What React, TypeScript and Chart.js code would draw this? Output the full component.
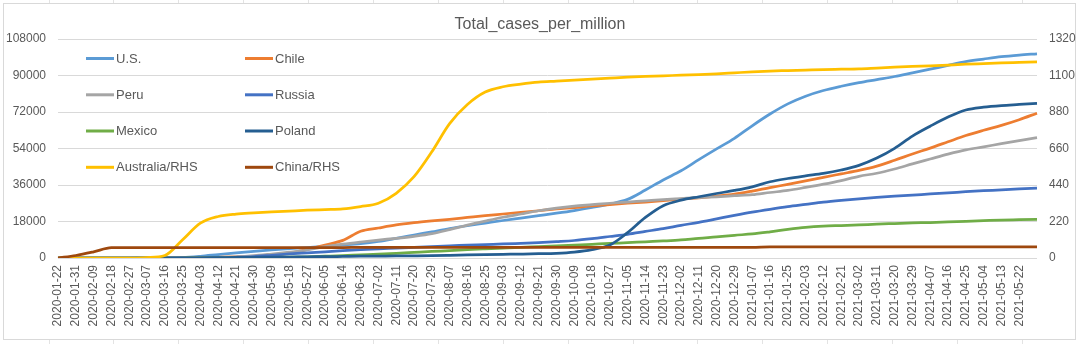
import React, { useEffect, useRef } from 'react';
import { Chart, registerables } from 'chart.js';

Chart.register(...registerables);

const dates = [
  '2020-01-22','2020-01-31','2020-02-09','2020-02-18','2020-02-27','2020-03-07','2020-03-16','2020-03-25',
  '2020-04-03','2020-04-12','2020-04-21','2020-04-30','2020-05-09','2020-05-18','2020-05-27','2020-06-05',
  '2020-06-14','2020-06-23','2020-07-02','2020-07-11','2020-07-20','2020-07-29','2020-08-07','2020-08-16',
  '2020-08-25','2020-09-03','2020-09-12','2020-09-21','2020-09-30','2020-10-09','2020-10-18','2020-10-27',
  '2020-11-05','2020-11-14','2020-11-23','2020-12-02','2020-12-11','2020-12-20','2020-12-29','2021-01-07',
  '2021-01-16','2021-01-25','2021-02-03','2021-02-12','2021-02-21','2021-03-02','2021-03-11','2021-03-20',
  '2021-03-29','2021-04-07','2021-04-16','2021-04-25','2021-05-04','2021-05-13','2021-05-22','2021-05-30'
];
const labeledTickCount = 55;

const usValues = [0,0,0,0,0,1,14,200,840,1680,2500,3280,3980,4580,5150,5800,6400,7100,8200,9700,11300,12900,14500,15900,17200,18500,19700,20900,22100,23400,24900,26600,28900,33500,38500,43000,48500,53800,59000,65200,71000,76000,79800,82600,84700,86500,88000,89500,91300,93100,95000,96800,98100,99300,100100,100700];
const chileValues = [0,0,0,0,0,0,8,48,190,350,540,850,1340,2400,4270,6400,8700,13200,14800,16300,17400,18300,19100,20000,20900,21700,22500,23300,24200,24900,25700,26300,27000,27600,28300,29000,29700,30500,31500,33000,34700,36300,38000,39800,41500,43200,45300,48200,51300,54200,57300,60400,63000,65400,68200,71400];
const peruValues = [0,0,0,0,0,0,0,13,48,227,540,1120,1970,2880,3950,5580,6830,7890,8860,9700,10700,12000,14000,16200,18200,20100,21700,23300,24600,25600,26300,27000,27600,28200,28800,29300,29800,30200,30700,31200,32300,33300,34800,36400,38200,40300,41800,43900,46400,48800,51200,53300,54800,56400,57900,59400];
const russiaValues = [0,0,0,0,0,0,0,5,28,108,362,726,1357,1994,2540,3077,3625,4110,4490,4890,5280,5670,6010,6300,6620,6920,7260,7600,8080,8630,9520,10600,11700,13100,14500,16100,17600,19300,21000,22600,24000,25300,26400,27500,28400,29200,29900,30500,31000,31600,32100,32700,33200,33600,34100,34500];
const mexicoValues = [0,0,0,0,0,0,0,0,12,37,76,153,250,393,596,880,1170,1530,1850,2310,2760,3210,3690,4140,4540,4920,5290,5590,5930,6350,6770,7200,7580,8010,8400,8890,9730,10400,11200,11850,12900,14100,15100,15700,16000,16300,16700,17000,17300,17500,17800,18100,18400,18700,18900,19100];
const polandValues = [0,0,0,0,0,0,4,28,89,175,262,341,412,489,595,672,767,868,929,992,1061,1148,1310,1500,1670,1812,1940,2100,2340,2940,4150,6380,12500,20000,25800,28500,30200,31800,33300,35100,37600,39200,40500,41700,43400,45700,49300,54100,60100,65000,69500,73000,74400,75200,75700,76200];
const australiaValues = [0,0,0,0,0,3,15,110,210,250,265,272,278,283,288,292,296,310,330,390,490,640,810,925,1000,1032,1048,1060,1066,1072,1078,1084,1090,1094,1098,1102,1106,1110,1116,1122,1127,1130,1133,1136,1138,1140,1145,1150,1155,1158,1163,1168,1172,1176,1179,1182];
const chinaValues = [0,15,37,62,63,63,63,63,63,63,63,63,63,63,63,63,63,64,64,64,64,64,64,64,64,64,64,64,64,64,64,64,64,64,64,64,64,64,64,64,67,67,67,67,67,67,67,67,67,67,67,67,67,67,67,67];

const seriesNames = ['U.S.', 'Chile', 'Peru', 'Russia', 'Mexico', 'Poland', 'Australia/RHS', 'China/RHS'];
const seriesColors = ['#5B9BD5', '#ED7D31', '#A5A5A5', '#4472C4', '#70AD47', '#255E91', '#FFC000', '#9E480E'];
const seriesAxes = ['y', 'y', 'y', 'y', 'y', 'y', 'y2', 'y2'];
const seriesData = [usValues, chileValues, peruValues, russiaValues, mexicoValues, polandValues, australiaValues, chinaValues];

const leftMax = 108000;
const leftStep = 18000;
const rightMax = 1320;
const rightStep = 220;
const chartTitle = 'Total_cases_per_million';

const FONT = '"Liberation Sans", Arial, sans-serif';
const TEXT = '#595959';

export default function App() {
  const ref = useRef<HTMLCanvasElement>(null);

  useEffect(() => {
    document.body.style.margin = '0';
    const canvas = ref.current;
    if (!canvas) return;

    const overlay = {
      id: 'overlay',
      beforeDraw(chart: any) {
        const c = chart.ctx;
        c.save();
        c.fillStyle = '#ffffff';
        c.fillRect(0, 0, chart.width, chart.height);
        // spreadsheet cell marks outside chart border
        c.strokeStyle = '#e3e3e3';
        c.lineWidth = 1;
        for (let x = 48.5; x < chart.width; x += 64.9) {
          const px = Math.round(x) + 0.5;
          c.beginPath(); c.moveTo(px, 0); c.lineTo(px, 3); c.stroke();
          c.beginPath(); c.moveTo(px, 340); c.lineTo(px, 344); c.stroke();
        }
        c.strokeStyle = '#d9d9d9';
        c.strokeRect(3.5, 3.5, 1072, 336);
        c.restore();
      },
      afterDraw(chart: any) {
        const c = chart.ctx;
        c.save();
        c.fillStyle = TEXT;
        c.font = `16px ${FONT}`;
        c.textAlign = 'center';
        c.textBaseline = 'alphabetic';
        c.fillText(chartTitle, 540, 29);

        const rowY = [58.5, 94.8, 131, 167.3];
        const lineX = [[86, 114], [245, 273]];
        const textX = [116, 275];
        c.font = `13px ${FONT}`;
        c.textAlign = 'left';
        c.textBaseline = 'middle';
        seriesNames.forEach((name, i) => {
          const row = Math.floor(i / 2);
          const col = i % 2;
          const y = rowY[row];
          c.strokeStyle = seriesColors[i];
          c.lineWidth = 3;
          c.lineCap = 'butt';
          c.beginPath();
          c.moveTo(lineX[col][0], y);
          c.lineTo(lineX[col][1], y);
          c.stroke();
          c.fillStyle = TEXT;
          c.fillText(name, textX[col], y + 0.5);
        });
        c.restore();
      },
    };

    const chart = new Chart(canvas, {
      type: 'line',
      data: {
        labels: dates,
        datasets: seriesData.map((d, i) => ({
          label: seriesNames[i],
          data: d,
          borderColor: seriesColors[i],
          backgroundColor: seriesColors[i],
          borderWidth: 2.75,
          pointRadius: 0,
          pointHoverRadius: 0,
          fill: false,
          cubicInterpolationMode: 'monotone' as const,
          yAxisID: seriesAxes[i],
          order: seriesData.length - i,
        })),
      },
      options: {
        responsive: false,
        animation: false,
        devicePixelRatio: 1,
        layout: { padding: { top: 39, left: 0, right: 0, bottom: 0 } },
        plugins: {
          legend: { display: false },
          title: { display: false },
          tooltip: { enabled: false },
        },
        scales: {
          x: {
            type: 'category',
            grid: { display: false, drawTicks: false },
            border: { display: false },
            ticks: {
              autoSkip: false,
              minRotation: 90,
              maxRotation: 90,
              padding: 7,
              color: TEXT,
              font: { family: FONT, size: 12 },
              callback: (_v: any, i: number) => (i < labeledTickCount ? dates[i] : ''),
            },
            afterFit: (s: any) => { s.height = 86; },
          },
          y: {
            position: 'left',
            min: 0,
            max: leftMax,
            ticks: {
              stepSize: leftStep,
              padding: 12,
              color: TEXT,
              font: { family: FONT, size: 12 },
              callback: (v: any) => String(v),
            },
            grid: { color: '#d9d9d9', drawTicks: false, lineWidth: 1 },
            border: { display: false },
            afterFit: (s: any) => { s.width = 58; },
          },
          y2: {
            position: 'right',
            min: 0,
            max: rightMax,
            ticks: {
              stepSize: rightStep,
              padding: 12,
              color: TEXT,
              font: { family: FONT, size: 12 },
              callback: (v: any) => String(v),
            },
            grid: { display: false, drawTicks: false },
            border: { display: false },
            afterFit: (s: any) => { s.width = 43; },
          },
        },
      },
      plugins: [overlay],
    });

    return () => chart.destroy();
  }, []);

  return (
    <canvas
      ref={ref}
      width={1080}
      height={344}
      style={{ display: 'block', width: 1080, height: 344 }}
    />
  );
}
